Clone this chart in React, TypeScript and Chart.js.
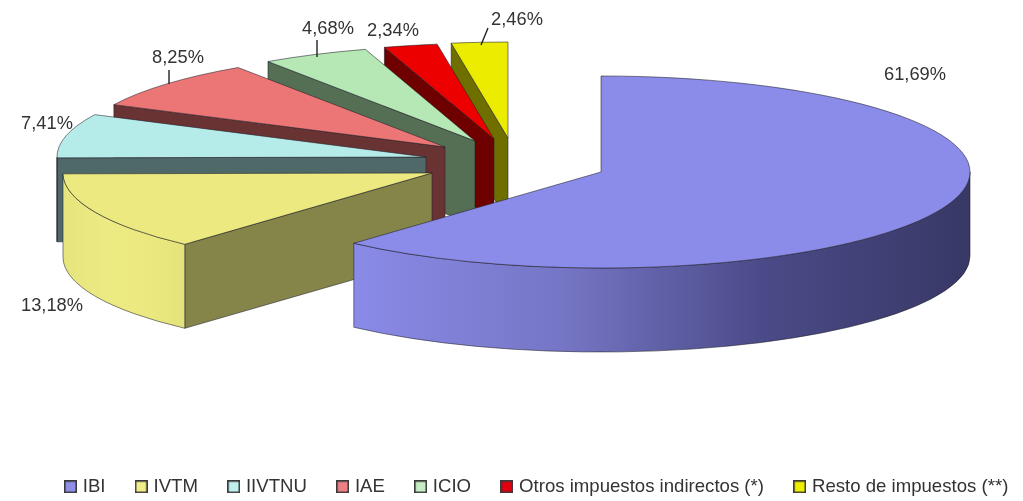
import React, { useEffect, useRef } from "react";
import { Chart, registerables } from "chart.js";

Chart.register(...registerables);

const categories = ["IBI", "IVTM", "IIVTNU", "IAE", "ICIO", "Otros impuestos indirectos (*)", "Resto de impuestos (**)"];
const shares = [61.69, 13.18, 7.41, 8.25, 4.68, 2.34, 2.46];
const topColors = ["#8b8be9", "#ebe980", "#b5ebe9", "#ec7676", "#b5e8b5", "#ec0000", "#ecec00"];
const cutColors = ["#55558f", "#85854a", "#4f6868", "#6a3333", "#546f54", "#6e0000", "#6f6f00"];
const legendColors = ["#8f8fe8", "#f0ee88", "#c0f0ee", "#ee7f85", "#c5ecc5", "#e00010", "#eeee00"];
const rimStops: string[][] = [
  ["#8a8ae8", "#7676c6", "#4a4a88", "#383866"],
  ["#e6e47c", "#ecea82", "#ebe980", "#e4e27a"],
  ["#4f6868", "#4f6868"],
  ["#6a3333", "#6a3333"],
  ["#546f54", "#546f54"],
  ["#6e0000", "#6e0000"],
  ["#6f6f00", "#6f6f00"],
];

// Layout of the exploded, flattened pie (pixels on the canvas)
const apexX = [601, 432, 426, 445, 475, 494, 508];
const apexY = [172, 173, 157, 147, 141, 139, 138];
const RX = 369;
const RY = 96;
const DEPTH = 84;
const labelX = [915, 52, 47, 178, 328, 393, 517];
const labelY = [75, 306, 124, 58, 29, 31, 20];
const leaders: (number[] | null)[] = [null, null, null, [169, 70, 169, 84], [317, 40, 317, 57], null, [488, 28, 481, 45]];

const EDGE = "rgba(30,30,40,0.55)";

function swatch(fill: string) {
  const c = document.createElement("canvas");
  c.width = 13;
  c.height = 13;
  const x = c.getContext("2d")!;
  x.fillStyle = fill;
  x.fillRect(0, 0, 13, 13);
  x.strokeStyle = "#3a3a3a";
  x.lineWidth = 1.6;
  x.strokeRect(0.8, 0.8, 11.4, 11.4);
  return c;
}

const pie3d = {
  id: "pie3d",
  beforeDatasetDraw(chart: any) {
    const ctx: CanvasRenderingContext2D = chart.ctx;
    const arcs = chart.getDatasetMeta(0).data;
    for (let i = arcs.length - 1; i >= 0; i--) {
      const arc = arcs[i];
      const cx = apexX[i];
      const cy = apexY[i];
      const a0 = arc.startAngle + Math.PI / 2; // clockwise from 12 o'clock
      const a1 = arc.endAngle + Math.PI / 2;
      const px = (a: number) => cx + RX * Math.sin(a);
      const py = (a: number) => cy - RY * Math.cos(a);

      ctx.save();
      ctx.lineWidth = 1;
      ctx.strokeStyle = EDGE;
      ctx.lineJoin = "round";

      // Cut face along the start edge (faces the viewer when the edge is on the left half)
      if (Math.sin(a0) < -1e-6) {
        ctx.beginPath();
        ctx.moveTo(cx, cy);
        ctx.lineTo(px(a0), py(a0));
        ctx.lineTo(px(a0), py(a0) + DEPTH);
        ctx.lineTo(cx, cy + DEPTH);
        ctx.closePath();
        ctx.fillStyle = cutColors[i];
        ctx.fill();
        ctx.stroke();
      }

      // Cut face along the end edge
      if (Math.sin(a1) > 1e-6) {
        ctx.beginPath();
        ctx.moveTo(cx, cy);
        ctx.lineTo(px(a1), py(a1));
        ctx.lineTo(px(a1), py(a1) + DEPTH);
        ctx.lineTo(cx, cy + DEPTH);
        ctx.closePath();
        ctx.fillStyle = cutColors[i];
        ctx.fill();
        ctx.stroke();
      }

      // Outer rim: only the front half of the ellipse
      const r0 = Math.max(a0, Math.PI / 2);
      const r1 = Math.min(a1, (3 * Math.PI) / 2);
      if (r1 > r0) {
        const g = ctx.createLinearGradient(px(r1), 0, px(r0), 0);
        const stops = rimStops[i];
        stops.forEach((s, k) => g.addColorStop(k / (stops.length - 1), s));
        ctx.beginPath();
        ctx.ellipse(cx, cy, RX, RY, 0, r0 - Math.PI / 2, r1 - Math.PI / 2);
        ctx.ellipse(cx, cy + DEPTH, RX, RY, 0, r1 - Math.PI / 2, r0 - Math.PI / 2, true);
        ctx.closePath();
        ctx.fillStyle = g;
        ctx.fill();
        ctx.stroke();
      }
      ctx.restore();

      // Top face: the library's own arc, flattened and moved into place
      ctx.save();
      const R = arc.outerRadius;
      ctx.translate(cx, cy);
      ctx.scale(RX / R, RY / R);
      ctx.translate(-arc.x, -arc.y);
      arc.draw(ctx);
      ctx.restore();

      ctx.save();
      ctx.beginPath();
      ctx.moveTo(cx, cy);
      ctx.ellipse(cx, cy, RX, RY, 0, a0 - Math.PI / 2, a1 - Math.PI / 2);
      ctx.closePath();
      ctx.strokeStyle = EDGE;
      ctx.lineWidth = 1;
      ctx.stroke();
      ctx.restore();
    }
    return false;
  },
  afterDatasetsDraw(chart: any) {
    const ctx: CanvasRenderingContext2D = chart.ctx;
    ctx.save();
    ctx.fillStyle = "#333333";
    ctx.strokeStyle = "#222222";
    ctx.lineWidth = 1.4;
    ctx.font = '18.3px "Liberation Sans", Arial, sans-serif';
    ctx.textAlign = "center";
    ctx.textBaseline = "middle";
    shares.forEach((v, i) => {
      ctx.fillText(v.toFixed(2).replace(".", ",") + "%", labelX[i], labelY[i]);
      const l = leaders[i];
      if (l) {
        ctx.beginPath();
        ctx.moveTo(l[0], l[1]);
        ctx.lineTo(l[2], l[3]);
        ctx.stroke();
      }
    });
    ctx.restore();
  },
};

export default function App() {
  const ref = useRef<HTMLCanvasElement>(null);
  useEffect(() => {
    document.body.style.background = "#ffffff";
    const chart = new Chart(ref.current!, {
      type: "pie",
      data: {
        labels: categories,
        datasets: [{ data: shares, backgroundColor: topColors, borderWidth: 0 }],
      },
      options: {
        responsive: false,
        animation: false,
        devicePixelRatio: 1,
        layout: { padding: { left: 34.8, right: -30, top: 0, bottom: -5 } },
        plugins: {
          tooltip: { enabled: false },
          legend: {
            position: "bottom",
            align: "start",
            labels: {
              usePointStyle: true,
              pointStyleWidth: 6,
              boxHeight: 13,
              padding: 32.7,
              color: "#333333",
              font: { family: '"Liberation Sans", Arial, sans-serif', size: 18.6 },
              generateLabels: () =>
                categories.map((text, index) => ({
                  text,
                  index,
                  fontColor: "#333333",
                  hidden: false,
                  pointStyle: swatch(legendColors[index]),
                  lineWidth: 0,
                })) as any,
            },
          },
        },
      },
      plugins: [pie3d as any],
    });
    return () => chart.destroy();
  }, []);
  return (
    <canvas
      ref={ref}
      width={1023}
      height={501}
      style={{ position: "fixed", left: 0, top: 0, display: "block", width: 1023, height: 501 }}
    />
  );
}
